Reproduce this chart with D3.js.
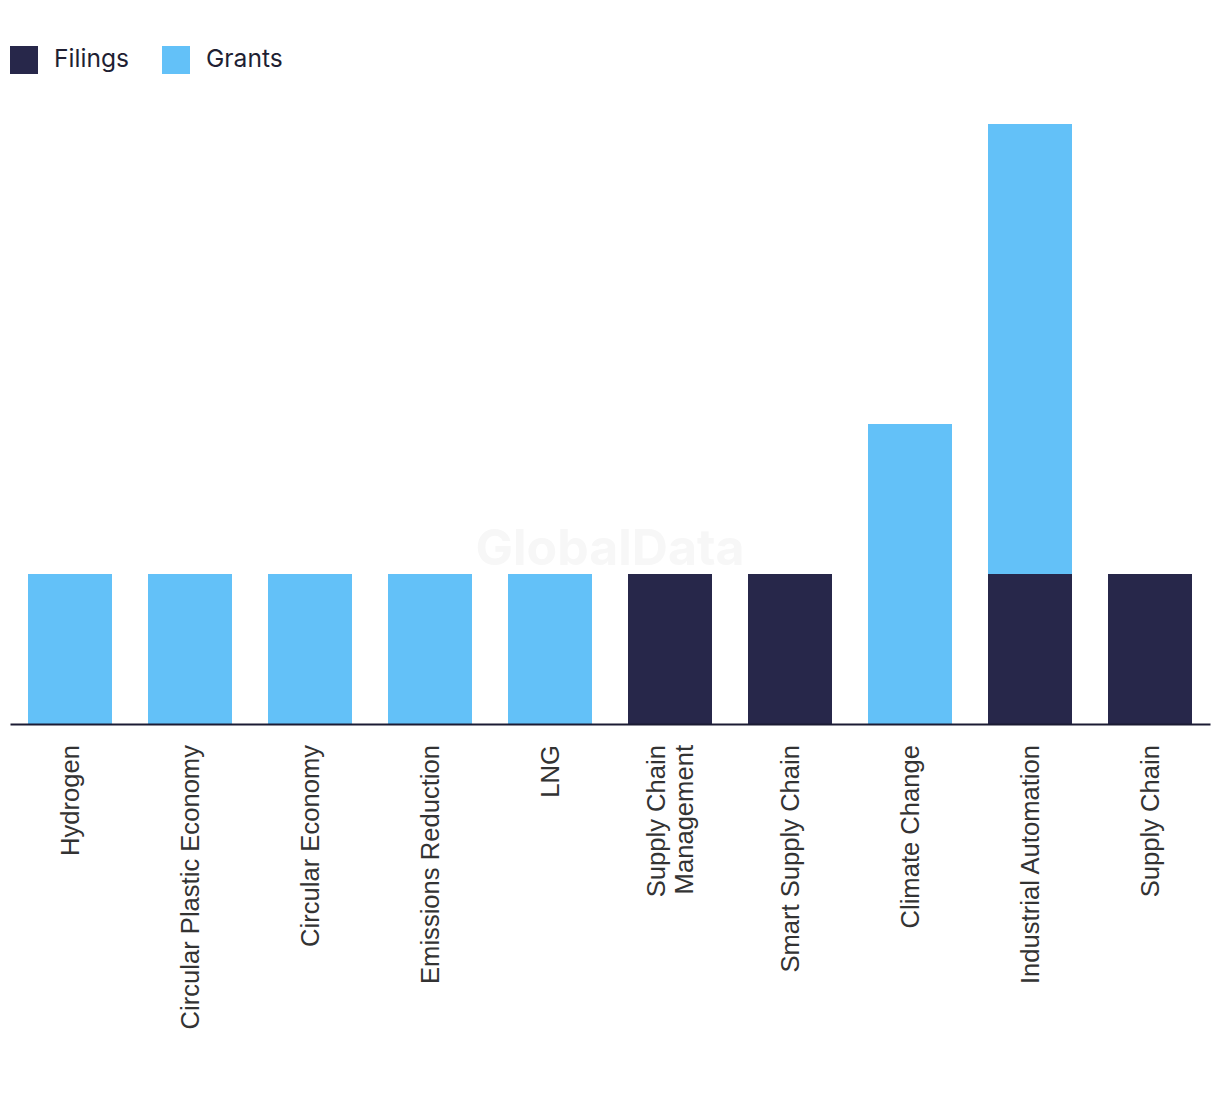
<!DOCTYPE html>
<html>
<head>
<meta charset="utf-8">
<script src="https://cdn.jsdelivr.net/npm/d3@7"></script>
<style>
  body { margin: 0; background: #fff; }
  svg { display: block; }
</style>
</head>
<body>
<svg id="chart" width="1220" height="1094"></svg>
<script>
const categories = ["Hydrogen", "Circular Plastic Economy", "Circular Economy", "Emissions Reduction", "LNG", "Supply Chain Management", "Smart Supply Chain", "Climate Change", "Industrial Automation", "Supply Chain"];
const filings = [0, 0, 0, 0, 0, 1, 1, 0, 1, 1];
const grants  = [1, 1, 1, 1, 1, 0, 0, 2, 3, 0];
const seriesNames = ["Filings", "Grants"];
const colors = ["#27274a", "#63c1f8"];
const yMax = 4;

const svg = d3.select("#chart");
const x = d3.scaleBand().domain(categories).range([10, 1210]).paddingInner(0.3).paddingOuter(0.15);
const y = d3.scaleLinear().domain([0, yMax]).range([724, 124]);

// watermark
svg.append("text").attr("x", 610).attr("y", 565).attr("text-anchor", "middle")
  .attr("font-family", "Inter, 'Liberation Sans', sans-serif").attr("font-weight", 700)
  .attr("font-size", 50).attr("fill", "#f7f7f7").text("GlobalData");

const rows = categories.map((c, i) => ({ cat: c, Filings: filings[i], Grants: grants[i] }));
const stacked = d3.stack().keys(seriesNames)(rows);

svg.append("g").selectAll("g").data(stacked).join("g")
  .attr("fill", (d, i) => colors[i])
  .selectAll("rect").data(d => d.filter(p => p[1] > p[0])).join("rect")
  .attr("x", d => x(d.data.cat))
  .attr("width", x.bandwidth())
  .attr("y", d => y(d[1]))
  .attr("height", d => y(d[0]) - y(d[1]));

// axis
const xAxis = svg.append("g").attr("transform", "translate(0,724)")
  .call(d3.axisBottom(x).tickSize(0).tickSizeOuter(0).tickFormat(""));
xAxis.select(".domain").attr("stroke", "#1b1b33").attr("stroke-width", 2);

// labels
const labelLines = {"Supply Chain Management": ["Supply Chain", "Management"]};
const lab = svg.append("g");
categories.forEach(c => {
  const lines = labelLines[c] || [c];
  const cx = x(c) + x.bandwidth() / 2;
  const lh = 28;
  const t = lab.append("text")
    .attr("transform", `translate(${cx},745) rotate(-90)`)
    .attr("text-anchor", "end")
    .attr("font-family", "'Liberation Sans', Arial, sans-serif")
    .attr("font-size", 25.6).attr("fill", "#333");
  lines.forEach((ln, j) => {
    const dy = (j - (lines.length - 1) / 2) * lh + 9;
    t.append("tspan").attr("x", 0).attr("y", dy).text(ln);
  });
});

// legend
const legendX = [10, 162];
seriesNames.forEach((s, i) => {
  svg.append("rect").attr("x", legendX[i]).attr("y", 46).attr("width", 28).attr("height", 28).attr("fill", colors[i]);
  svg.append("text").attr("x", legendX[i] + 44).attr("y", 67)
    .attr("font-family", "Inter, 'Open Sans', sans-serif").attr("font-size", 24.6)
    .attr("fill", "#1f1f33").text(s);
});
</script>
</body>
</html>
